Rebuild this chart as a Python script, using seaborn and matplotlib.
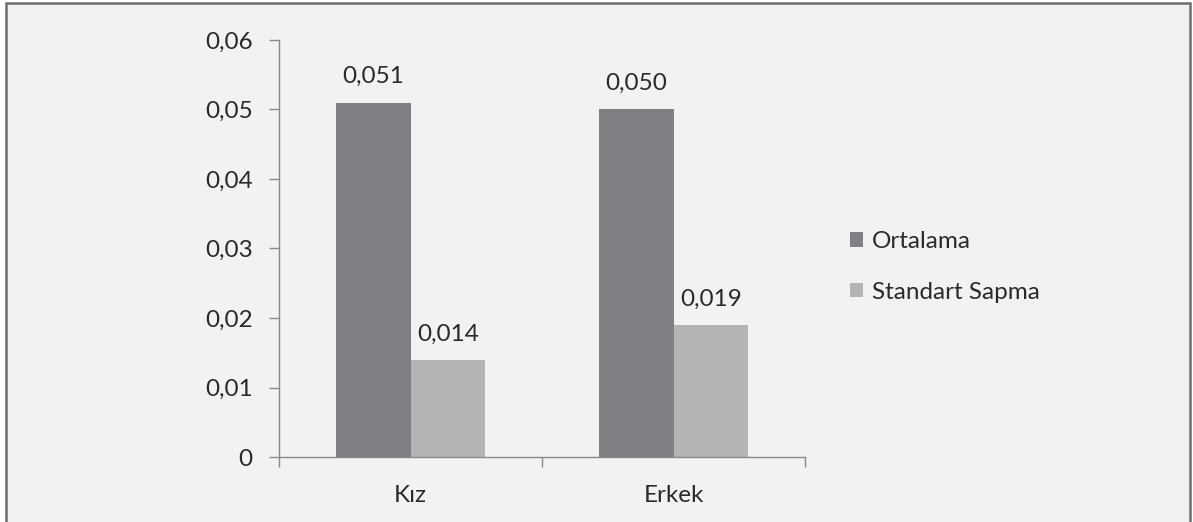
import matplotlib
matplotlib.use("Agg")
import matplotlib.pyplot as plt
import seaborn as sns
import pandas as pd
from matplotlib.patches import Rectangle
from matplotlib.ticker import FixedLocator

categories = ["Kız", "Erkek"]
series_names = ["Ortalama", "Standart Sapma"]
ortalama = [0.051, 0.050]
std_sapma = [0.014, 0.019]
yticks = [0, 0.01, 0.02, 0.03, 0.04, 0.05, 0.06]
ytick_labels = ["0", "0,01", "0,02", "0,03", "0,04", "0,05", "0,06"]

df = pd.DataFrame({
    "cat": categories * 2,
    "series": [series_names[0]] * 2 + [series_names[1]] * 2,
    "val": ortalama + std_sapma,
})

sns.set_theme(style="white")
plt.rcParams["font.family"] = ["Lato", "DejaVu Sans"]

FS = 17.5
TXT = "#2a2a2a"
bg = "#f2f2f2"
fig = plt.figure(figsize=(11.93, 5.22), dpi=100, facecolor="white")
fig.patches.append(Rectangle((6 / 1193, -0.05), 1184 / 1193, (519 / 522) + 0.05,
                             transform=fig.transFigure, facecolor=bg,
                             edgecolor="#6e6e6e", linewidth=1.8, zorder=-5))
ax = fig.add_axes([279 / 1193, 65 / 522, 526 / 1193, 417 / 522])
ax.set_facecolor("none")
ax.set_zorder(2)

colors = ["#7f8083", "#b3b4b6"]
sns.barplot(data=df, x="cat", y="val", hue="series", palette=colors,
            width=0.567, gap=0, ax=ax, edgecolor="none", linewidth=0,
            legend=True, saturation=1)

for cont in ax.containers:
    ax.bar_label(cont, labels=[f"{v:.3f}".replace(".", ",") for v in cont.datavalues],
                 padding=11, fontsize=FS, color=TXT)

ax.set_xlim(-0.5, 1.5)
ax.set_ylim(0, 0.06)
ax.set_yticks(yticks)
ax.set_yticklabels(ytick_labels, fontsize=FS, color=TXT)
ax.set_xticks(range(len(categories)))
ax.set_xticklabels(categories, fontsize=FS, color=TXT)
ax.xaxis.set_minor_locator(FixedLocator([-0.5, 0.5, 1.5]))
ax.tick_params(axis="x", which="major", length=0, pad=20)
ax.tick_params(axis="x", which="minor", length=7, width=1, color="#8a8a8a", direction="out", bottom=True)
ax.tick_params(axis="y", which="major", length=7, width=1, color="#8a8a8a", direction="out", left=True, pad=12)
ax.set_xlabel("")
ax.set_ylabel("")
for s in ["top", "right"]:
    ax.spines[s].set_visible(False)
for s in ["left", "bottom"]:
    ax.spines[s].set_color("#8a8a8a")
    ax.spines[s].set_linewidth(1)

leg = ax.legend(loc="center left", bbox_to_anchor=(828 / 1193, (522 - 267) / 522),
                bbox_transform=fig.transFigure, frameon=False, fontsize=FS,
                handlelength=0.55, handleheight=0.55, handletextpad=0.35,
                labelspacing=1.2, labelcolor=TXT)

fig.savefig("out.png", dpi=100, facecolor="white")
